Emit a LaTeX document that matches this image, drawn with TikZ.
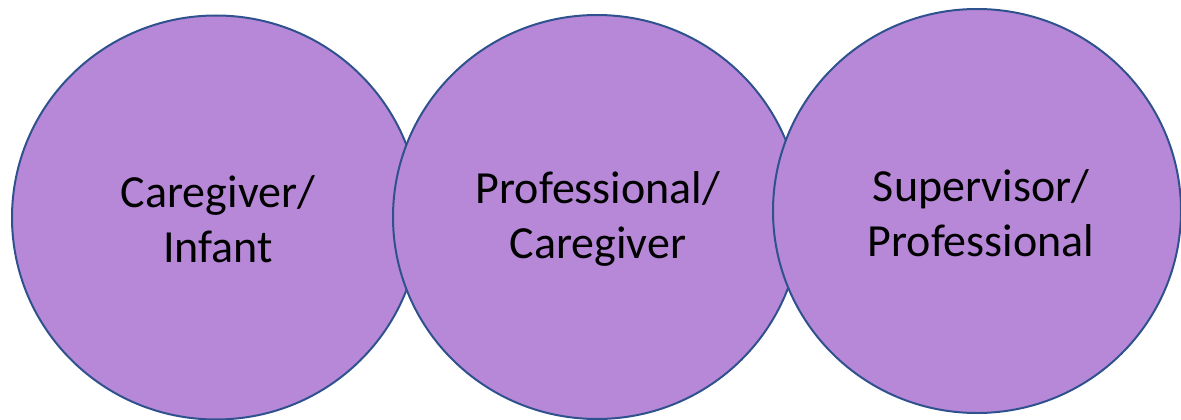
\documentclass[tikz,border=0pt]{standalone}
\usepackage{fontspec}
\usetikzlibrary{shapes.geometric}
\setmainfont{Carlito}
\definecolor{bubblefill}{RGB}{183,136,216}
\definecolor{bubbleline}{RGB}{47,82,143}
\begin{document}
\begin{tikzpicture}[x=1pt,y=-1pt,
  bubble/.style={ellipse, draw=bubbleline, fill=bubblefill, line width=2pt,
    minimum width=408pt, minimum height=404pt, inner sep=0pt},
  label/.style={align=center, font=\fontsize{46}{55}\selectfont, text=black}]
\useasboundingbox (0,0) rectangle (1181,420);
% three overlapping bubbles, each drawn over the previous one
\node[bubble] (c1) at (216,217.5) {};
\node[bubble] (c2) at (597,217) {};
\node[bubble] (c3) at (977,211) {};
% labels
\node[label] (t1) at (218,219) {Caregiver/\\Infant};
\node[label] (t2) at (598,219) {Professional/\\Caregiver};
\node[label] (t3) at (981,213) {Supervisor/\\Professional};
\end{tikzpicture}
\end{document}
